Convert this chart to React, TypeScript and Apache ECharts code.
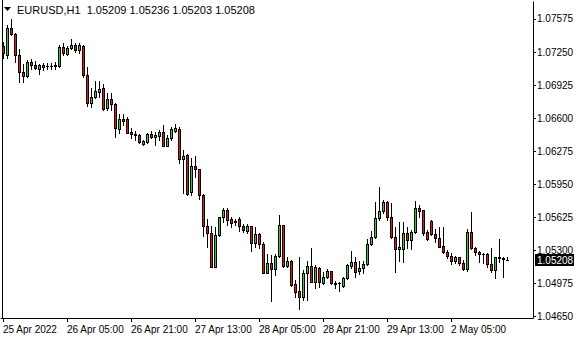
import React, { useEffect, useRef } from "react";
import * as echarts from "echarts";

// Hourly EURUSD candles, 25 Apr 2022 13:00 .. 2 May 2022 19:00
const OPEN = [
  1.0731, 1.07221, 1.07484, 1.07428, 1.07221, 1.07057, 1.07015, 1.07152, 1.07123, 1.07079,
  1.07103, 1.0711, 1.07113, 1.07116, 1.07113, 1.07297, 1.07231, 1.07287, 1.07319, 1.0727,
  1.0731, 1.07025, 1.06752, 1.06805, 1.0686, 1.06894, 1.06697, 1.06786, 1.06737, 1.06491,
  1.06589, 1.06589, 1.06467, 1.06445, 1.06435, 1.06346, 1.06369, 1.06445, 1.06412, 1.06425,
  1.06467, 1.0633, 1.06402, 1.06477, 1.06491, 1.06196, 1.06238, 1.05877, 1.0613, 1.06098,
  1.05845, 1.0554, 1.05474, 1.0514, 1.05452, 1.05626, 1.05698, 1.05606, 1.05585, 1.05606,
  1.0554, 1.05491, 1.0554, 1.05376, 1.05462, 1.05363, 1.05081, 1.05174, 1.05115, 1.05245,
  1.0555, 1.05147, 1.05199, 1.0497, 1.04904, 1.04845, 1.05075, 1.05147, 1.04993, 1.05124,
  1.04983, 1.05036, 1.05098, 1.04977, 1.04977, 1.0495, 1.05026, 1.05147, 1.05186, 1.05101,
  1.05124, 1.05164, 1.05363, 1.05429, 1.05616, 1.05683, 1.05773, 1.05632, 1.05435, 1.05312,
  1.05319, 1.05468, 1.054, 1.05486, 1.05722, 1.05698, 1.05478, 1.05594, 1.05459, 1.05425,
  1.05341, 1.05285, 1.05245, 1.05199, 1.05232, 1.05181, 1.05118, 1.05481, 1.05321, 1.05288,
  1.05265, 1.05263, 1.05165, 1.05106, 1.05232, 1.05224, 1.05209,
];
const CLOSE = [
  1.07238, 1.07484, 1.07428, 1.07221, 1.07057, 1.07015, 1.07155, 1.07123, 1.0709, 1.07118,
  1.07118, 1.07113, 1.0711, 1.0712, 1.073, 1.07244, 1.07287, 1.07319, 1.0727, 1.07319,
  1.07025, 1.06749, 1.06805, 1.06867, 1.06887, 1.0669, 1.06786, 1.06737, 1.06501, 1.06589,
  1.06572, 1.06457, 1.06445, 1.06432, 1.06363, 1.06376, 1.06445, 1.06412, 1.06435, 1.06467,
  1.0633, 1.06402, 1.06494, 1.06501, 1.06196, 1.06228, 1.05852, 1.0613, 1.06098, 1.05845,
  1.0554, 1.05474, 1.0514, 1.05452, 1.05626, 1.05698, 1.05599, 1.05573, 1.05582, 1.0554,
  1.05501, 1.0554, 1.05376, 1.05462, 1.05363, 1.05081, 1.05174, 1.05115, 1.05245, 1.0555,
  1.05147, 1.05199, 1.0496, 1.04894, 1.04845, 1.05075, 1.05147, 1.04993, 1.05134, 1.04993,
  1.05042, 1.05098, 1.04977, 1.04975, 1.04979, 1.05026, 1.05157, 1.05186, 1.05091, 1.05127,
  1.05165, 1.05361, 1.05429, 1.05616, 1.05683, 1.05773, 1.05632, 1.05435, 1.05312, 1.05337,
  1.05468, 1.054, 1.05486, 1.05722, 1.05688, 1.05476, 1.05412, 1.05459, 1.05425, 1.05337,
  1.05282, 1.05245, 1.05199, 1.05232, 1.05181, 1.0512, 1.05481, 1.05321, 1.0528, 1.05262,
  1.05262, 1.05165, 1.05106, 1.05233, 1.05229, 1.0522, 1.05208,
];
const HIGH = [
  1.07352, 1.07516, 1.07572, 1.07433, 1.0728, 1.07133, 1.07172, 1.07177, 1.07165, 1.07133,
  1.07143, 1.0714, 1.0714, 1.07155, 1.07319, 1.07336, 1.0731, 1.07375, 1.07339, 1.07336,
  1.07324, 1.07106, 1.06897, 1.06969, 1.06969, 1.06936, 1.06848, 1.06845, 1.06746, 1.06641,
  1.06638, 1.06615, 1.06501, 1.06477, 1.0644, 1.06386, 1.06457, 1.06477, 1.06467, 1.06484,
  1.06533, 1.06435, 1.06516, 1.0654, 1.0651, 1.06287, 1.06248, 1.06206, 1.06228, 1.06101,
  1.0585, 1.05606, 1.0554, 1.05533, 1.05632, 1.05714, 1.05714, 1.05632, 1.05606, 1.05632,
  1.0556, 1.0556, 1.05545, 1.05533, 1.05474, 1.05383, 1.05265, 1.05255, 1.05265, 1.05648,
  1.05555, 1.05238, 1.05206, 1.05009, 1.05238, 1.05108, 1.05199, 1.05321, 1.05157, 1.0514,
  1.05091, 1.05115, 1.05101, 1.05003, 1.04993, 1.05036, 1.05167, 1.0529, 1.05231, 1.05199,
  1.05199, 1.05408, 1.05491, 1.05781, 1.05924, 1.05796, 1.05786, 1.05766, 1.05533, 1.0558,
  1.05583, 1.05533, 1.05501, 1.05786, 1.05747, 1.05702, 1.05501, 1.05599, 1.05508, 1.05533,
  1.05533, 1.05301, 1.05272, 1.05245, 1.05238, 1.05206, 1.05506, 1.05681, 1.05337, 1.05293,
  1.05278, 1.05278, 1.05321, 1.05235, 1.05409, 1.05233, 1.05236,
];
const LOW = [
  1.07189, 1.07189, 1.07413, 1.07155, 1.06959, 1.06959, 1.07005, 1.07084, 1.07084, 1.07039,
  1.07074, 1.07084, 1.07084, 1.07084, 1.07106, 1.07221, 1.07221, 1.07277, 1.07251, 1.07244,
  1.07005, 1.0672, 1.06713, 1.06796, 1.06808, 1.06681, 1.06681, 1.06681, 1.06412, 1.06457,
  1.06533, 1.06451, 1.06402, 1.06386, 1.06353, 1.06332, 1.06359, 1.06405, 1.06336, 1.06386,
  1.06327, 1.06327, 1.06386, 1.06467, 1.06157, 1.05868, 1.05845, 1.05845, 1.06025, 1.05803,
  1.05442, 1.05331, 1.05137, 1.05137, 1.05442, 1.05583, 1.0555, 1.05527, 1.0555, 1.05494,
  1.05484, 1.05468, 1.05297, 1.05331, 1.05321, 1.05078, 1.05078, 1.04806, 1.05059, 1.05235,
  1.05134, 1.0514, 1.0495, 1.04845, 1.04721, 1.04813, 1.04813, 1.0499, 1.04928, 1.04944,
  1.0497, 1.05026, 1.0497, 1.04928, 1.04904, 1.04944, 1.05016, 1.05132, 1.05042, 1.05068,
  1.05081, 1.05157, 1.05353, 1.05419, 1.05599, 1.05668, 1.05599, 1.05422, 1.05091, 1.05196,
  1.05183, 1.05321, 1.05314, 1.05476, 1.05632, 1.05452, 1.05403, 1.05452, 1.05386, 1.05331,
  1.05272, 1.05223, 1.05167, 1.05174, 1.05157, 1.05103, 1.05098, 1.05319, 1.05255, 1.05189,
  1.05181, 1.0514, 1.05093, 1.05026, 1.05189, 1.05036, 1.05203,
];

const TIME_LABELS = [
  "25 Apr 2022",
  "26 Apr 05:00",
  "26 Apr 21:00",
  "27 Apr 13:00",
  "28 Apr 05:00",
  "28 Apr 21:00",
  "29 Apr 13:00",
  "2 May 05:00",
];
const LABEL_EVERY = 16;
const EMPTY_BARS = 6;

const Y_TICKS = [
  1.0465, 1.04975, 1.053, 1.05625, 1.0595, 1.06275, 1.066, 1.06925, 1.0725, 1.07575,
];
const Y_MIN = 1.04636;
const Y_MAX = 1.07742;

const LAST_PRICE = 1.05208;
const TITLE = "EURUSD,H1  1.05209 1.05236 1.05203 1.05208";

const FONT = '"Liberation Sans", Arial, sans-serif';
const UP = "#32cd32";
const DOWN = "#f01010";

export default function App() {
  const ref = useRef<HTMLDivElement>(null);

  useEffect(() => {
    const chart = echarts.init(ref.current as HTMLDivElement, null, { renderer: "svg" });
    const n = OPEN.length + EMPTY_BARS;
    const cats = Array.from({ length: n }, (_, i) => String(i));
    const data = OPEN.map((o, i) => [i, o, CLOSE[i], LOW[i], HIGH[i]]);
    const showAt = (i: number) => i % LABEL_EVERY === 0 && i < OPEN.length;

    const renderCandle = (_params: any, api: any) => {
      const i = api.value(0);
      const o = api.value(1);
      const c = api.value(2);
      const l = api.value(3);
      const h = api.value(4);
      const pO = api.coord([i, o]);
      const pC = api.coord([i, c]);
      const pL = api.coord([i, l]);
      const pH = api.coord([i, h]);
      const col = Math.floor(pO[0]);
      const yH = Math.round(pH[1]);
      const yL = Math.round(pL[1]);
      const top = Math.round(Math.min(pO[1], pC[1]));
      const bot = Math.round(Math.max(pO[1], pC[1]));
      const children: any[] = [
        { type: "rect", shape: { x: col, y: yH, width: 1, height: yL - yH + 1 }, style: { fill: "#000" } },
        { type: "rect", shape: { x: col - 1, y: top, width: 3, height: bot - top + 1 }, style: { fill: "#000" } },
      ];
      if (bot - top >= 2) {
        children.push({
          type: "rect",
          shape: { x: col, y: top + 1, width: 1, height: bot - top - 1 },
          style: { fill: c > o ? UP : DOWN },
        });
      }
      return { type: "group", children };
    };

    const staticGraphics = [
      { type: "rect", shape: { x: 2, y: 0, width: 1, height: 319 }, style: { fill: "#000" } },
      { type: "polygon", shape: { points: [[4, 7], [11, 7], [7.5, 11]] }, style: { fill: "#000" } },
      {
        type: "text",
        x: 17,
        y: 10,
        style: { text: TITLE, fill: "#000", fontSize: 11, fontFamily: FONT, verticalAlign: "middle" },
      },
    ];

    chart.setOption({
      animation: false,
      backgroundColor: "#ffffff",
      grid: { left: 1, right: 47, top: 2, bottom: 22 },
      xAxis: {
        type: "category",
        data: cats,
        boundaryGap: true,
        axisLine: { show: true, lineStyle: { color: "#000", width: 1 } },
        axisTick: {
          show: true,
          alignWithLabel: true,
          length: 4,
          interval: (i: number) => showAt(i),
          lineStyle: { color: "#000" },
        },
        axisLabel: {
          interval: (i: number) => showAt(i),
          formatter: (_v: string, i: number) => TIME_LABELS[i / LABEL_EVERY] ?? "",
          align: "left",
          margin: 6,
          color: "#000",
          fontSize: 10,
          fontFamily: FONT,
        },
        splitLine: { show: false },
      },
      yAxis: {
        type: "value",
        position: "right",
        min: Y_MIN,
        max: Y_MAX,
        axisLine: { show: true, lineStyle: { color: "#000", width: 1 } },
        axisTick: { show: true, length: 3, customValues: Y_TICKS, lineStyle: { color: "#000" } },
        axisLabel: {
          customValues: Y_TICKS,
          formatter: (v: number) => v.toFixed(5),
          margin: 4,
          color: "#000",
          fontSize: 10,
          fontFamily: FONT,
        },
        splitLine: { show: false },
      },
      series: [
        {
          type: "custom",
          data,
          encode: { x: 0, y: [1, 2, 3, 4] },
          renderItem: renderCandle,
          clip: true,
        },
      ],
      graphic: staticGraphics,
    });

    // current price marker on the price scale, placed through the y axis
    const py = chart.convertToPixel({ yAxisIndex: 0 }, LAST_PRICE) as number;
    chart.setOption({
      graphic: [
        ...staticGraphics,
        {
          type: "rect",
          shape: { x: 535, y: Math.round(py) - 6, width: 39, height: 12 },
          style: { fill: "#000" },
          z: 10,
        },
        {
          type: "text",
          x: 537,
          y: Math.round(py),
          style: {
            text: LAST_PRICE.toFixed(5),
            fill: "#fff",
            fontSize: 10,
            fontFamily: FONT,
            verticalAlign: "middle",
          },
          z: 11,
        },
      ],
    });
    return () => chart.dispose();
  }, []);

  return (
    <div
      ref={ref}
      style={{ position: "fixed", left: 0, top: 0, width: 580, height: 340, background: "#fff" }}
    />
  );
}
